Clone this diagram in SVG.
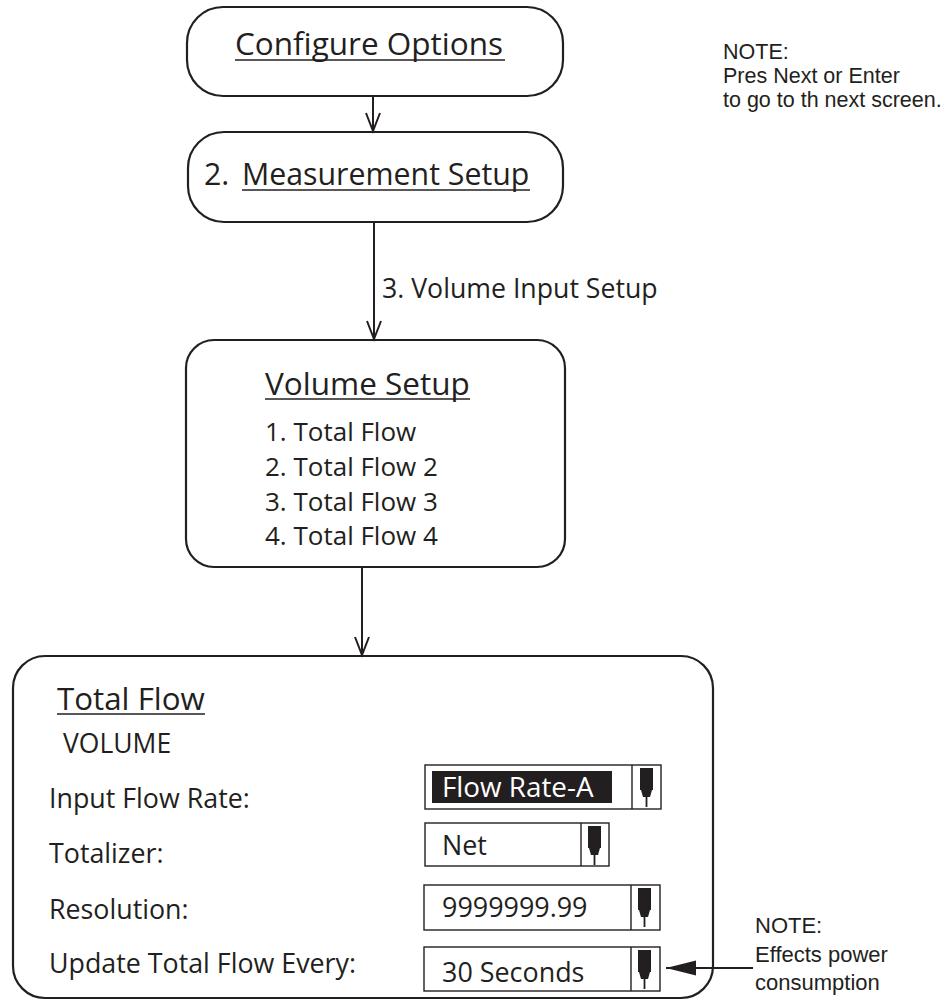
<svg xmlns="http://www.w3.org/2000/svg" width="947" height="1002" viewBox="0 0 947 1002">
<style>
.box{fill:#fff;stroke:#231f20;stroke-width:2.2}
.fld{fill:#fff;stroke:#231f20;stroke-width:1.4}
.t{font-family:"Open Sans","Liberation Sans",sans-serif;fill:#231f20}
.n{font-family:"Liberation Sans",Arial,sans-serif;fill:#231f20}
.ul{stroke:#231f20;stroke-width:1.6}
.con{stroke:#231f20;stroke-width:2;fill:none}
</style>
<defs>
<marker id="open" viewBox="-20 -10 22 20" markerUnits="userSpaceOnUse" markerWidth="22" markerHeight="20" refX="0" refY="0" orient="auto" overflow="visible">
<path d="M-18,-7 L0,0 L-18,7" fill="none" stroke="#231f20" stroke-width="2"/>
</marker>
<marker id="solid" viewBox="-32 -10 34 20" markerUnits="userSpaceOnUse" markerWidth="34" markerHeight="20" refX="0" refY="0" orient="auto" overflow="visible">
<path d="M-30,-7.5 L0,0 L-30,7.5 Z" fill="#231f20"/>
</marker>
<g id="knob">
<rect x="0" y="0" width="13" height="22" fill="#231f20"/>
<path d="M1,22 L12,22 L10,29 L3,29 Z" fill="#231f20"/>
<rect x="5.6" y="29" width="1.8" height="10" fill="#231f20"/>
</g>
</defs>
<rect width="947" height="1002" fill="#fff"/>

<g id="configure-options">
<rect class="box" x="187" y="7" width="376" height="89" rx="36"/>
<text class="t" x="235" y="55" font-size="31.5">Configure Options</text>
<line class="ul" x1="235" y1="60" x2="505" y2="60"/>
</g>

<g id="measurement-setup">
<rect class="box" x="188" y="132" width="375" height="90" rx="36"/>
<text class="t" x="204" y="185" font-size="30.3">2. <tspan x="242">Measurement Setup</tspan></text>
<line class="ul" x1="242" y1="190" x2="530" y2="190"/>
</g>

<g id="volume-setup">
<rect class="box" x="186" y="340" width="379" height="227" rx="28"/>
<text class="t" x="265" y="395" font-size="31.5">Volume Setup</text>
<line class="ul" x1="265" y1="399" x2="470" y2="399"/>
<text class="t" x="265" y="441" font-size="26">1. Total Flow</text>
<text class="t" x="265" y="476" font-size="26">2. Total Flow 2</text>
<text class="t" x="265" y="511" font-size="26">3. Total Flow 3</text>
<text class="t" x="265" y="545" font-size="26">4. Total Flow 4</text>
</g>

<g id="total-flow">
<rect class="box" x="13" y="656" width="700" height="342" rx="32"/>
<text class="t" x="57" y="710" font-size="31.3">Total Flow</text>
<line class="ul" x1="57" y1="714" x2="205" y2="714"/>
<text class="t" x="63" y="753" font-size="26.5">VOLUME</text>
<text class="t" x="49" y="808" font-size="26.8">Input Flow Rate:</text>
<text class="t" x="49" y="863" font-size="26.8">Totalizer:</text>
<text class="t" x="49" y="919" font-size="26.8">Resolution:</text>
<text class="t" x="49" y="973" font-size="26.8">Update Total Flow Every:</text>
</g>

<g id="field-input-flow-rate">
<rect class="fld" x="425" y="765" width="236" height="44"/>
<rect x="432" y="771" width="180" height="32" fill="#231f20"/>
<line class="fld" x1="632" y1="765" x2="632" y2="809"/>
<use href="#knob" x="640" y="768"/>
<text class="t" x="442" y="797" font-size="27.8" style="fill:#fff">Flow Rate-A</text>
</g>

<g id="field-totalizer">
<rect class="fld" x="425" y="823" width="184" height="43"/>
<line class="fld" x1="581" y1="823" x2="581" y2="866"/>
<use href="#knob" x="588" y="826"/>
<text class="t" x="442" y="855" font-size="26.9">Net</text>
</g>

<g id="field-resolution">
<rect class="fld" x="424" y="885" width="236" height="45"/>
<line class="fld" x1="631" y1="885" x2="631" y2="930"/>
<use href="#knob" x="638" y="888"/>
<text class="t" x="442" y="917" font-size="26.9">9999999.99</text>
</g>

<g id="field-update">
<rect class="fld" x="424" y="947" width="236" height="44"/>
<line class="fld" x1="631" y1="947" x2="631" y2="991"/>
<use href="#knob" x="638" y="950"/>
<text class="t" x="442" y="982" font-size="26.9">30 Seconds</text>
</g>

<g id="note-top">
<text class="n" x="723" y="59" font-size="21.5">NOTE:</text>
<text class="n" x="723" y="83" font-size="21.5">Pres Next or Enter</text>
<text class="n" x="723" y="107" font-size="21.5">to go to th next screen.</text>
</g>

<g id="note-bottom">
<text class="n" x="755" y="933" font-size="22">NOTE:</text>
<text class="n" x="755" y="962" font-size="22">Effects power</text>
<text class="n" x="755" y="990" font-size="22">consumption</text>
</g>

<g id="connectors">
<line class="con" x1="373" y1="96" x2="373" y2="131" marker-end="url(#open)"/>
<line class="con" x1="374" y1="222" x2="374" y2="339" marker-end="url(#open)"/>
<text class="t" x="382" y="298" font-size="26.7">3. Volume Input Setup</text>
<line class="con" x1="362" y1="567" x2="362" y2="655" marker-end="url(#open)"/>
<line class="con" x1="753" y1="968" x2="666" y2="968" marker-end="url(#solid)"/>
</g>
</svg>
